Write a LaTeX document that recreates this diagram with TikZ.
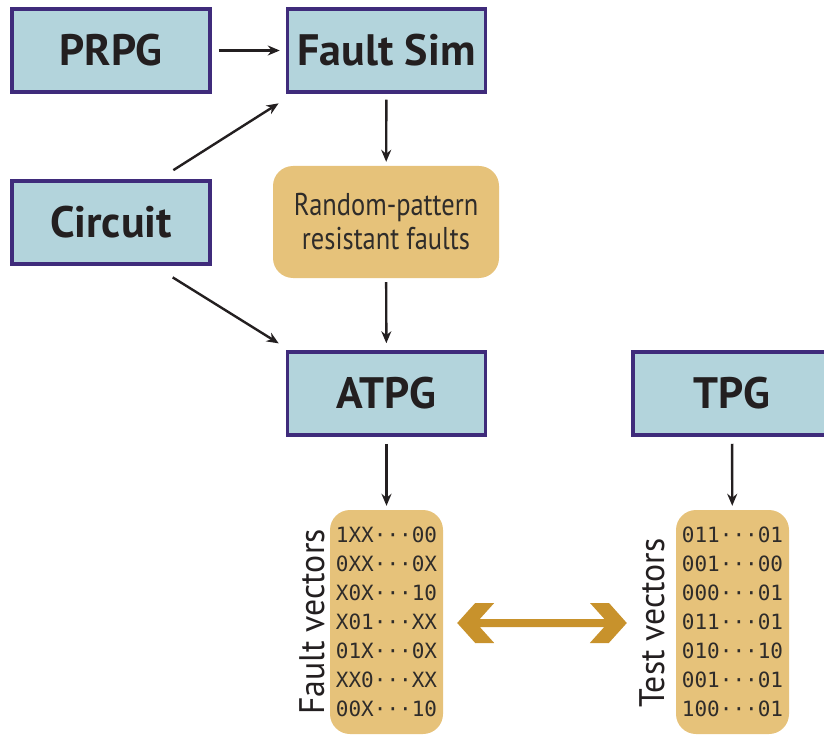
\documentclass[tikz,border=0pt]{standalone}
\usepackage{fontspec}
\setmainfont{PT Sans}
\newfontfamily\vecfont{DejaVu Sans Mono}
\usetikzlibrary{arrows.meta,calc}
\definecolor{boxblue}{HTML}{B3D4DC}
\definecolor{boxedge}{HTML}{3F2B7B}
\definecolor{gold}{HTML}{E6C27A}
\definecolor{arrowgold}{HTML}{C8922C}
\definecolor{ink}{HTML}{231F20}
\definecolor{softink}{HTML}{2F2C2A}
\begin{document}
\begin{tikzpicture}[x=1pt,y=-1pt,
  block/.style={draw=boxedge, fill=boxblue, line width=3.5pt,
    minimum width=198pt, minimum height=83pt, inner sep=0pt,
    font=\fontsize{44}{48}\selectfont\bfseries, text=ink},
  pill/.style={fill=gold, rounded corners=20pt, inner sep=0pt},
  vecs/.style={pill, minimum width=113pt, minimum height=224pt,
    align=left, text=softink, font=\vecfont\fontsize{21}{29}\selectfont},
  side/.style={rotate=90, text=ink, font=\fontsize{35.5}{38}\selectfont},
  flow/.style={-{Stealth[length=12pt,width=10pt]}, line width=2.4pt, draw=ink}
]
\clip (0,0) rectangle (824,735);

% blue process blocks
\node[block] (prpg) at (111,50.5) {PRPG};
\node[block] (fsim) at (386.5,50.5) {Fault Sim};
\node[block] (circ) at (111,222.5) {Circuit};
\node[block] (atpg) at (386.5,393.5) {ATPG};
\node[block] (tpg)  at (732,393.5) {TPG};

% gold result boxes
\node[pill, minimum width=226pt, minimum height=112pt, align=center,
      text=softink, font=\fontsize{31.5}{34}\selectfont] (rpr) at (386,222)
  {\scalebox{0.84}[1]{Random-pattern}\\\scalebox{0.84}[1]{resistant faults}};

\node[vecs] (fv) at (386.5,622)
  {1XX···00\\0XX···0X\\X0X···10\\X01···XX\\01X···0X\\XX0···XX\\00X···10};
\node[vecs] (tv) at (732.5,622)
  {011···01\\001···00\\000···01\\011···01\\010···10\\001···01\\100···01};

\node[side] (fvl) at (312,622) {\scalebox{0.95}[1]{Fault vectors}};
\node[side] (tvl) at (652,623) {\scalebox{0.95}[1]{Test vectors}};

% flow connectors
\draw[flow, shorten <=7pt, shorten >=6pt] (prpg) -- (fsim);
\draw[flow, shorten <=17pt, shorten >=18pt]
  ([xshift=48pt]circ.north) -- ([xshift=8pt]fsim.south west);
\draw[flow, shorten <=22pt, shorten >=13pt]
  ([xshift=43pt]circ.south) -- ([xshift=4pt]atpg.north west);
\draw[flow, shorten <=6pt, shorten >=4pt] (fsim) -- (rpr);
\draw[flow, shorten <=4pt, shorten >=7pt] (rpr) -- (atpg);
\draw[flow, shorten <=7pt, shorten >=4pt] (atpg) -- (fv);
\draw[flow, shorten <=7pt, shorten >=4pt] (tpg) -- (tv);

% two-headed comparison arrow
\coordinate (dl) at ($(fv.east)+(14,1)$);
\coordinate (dr) at ($(tv.west)+(-49,1)$);
\fill[arrowgold] (dl) -- ++(18,-20) -- ++(19,0) -- ++(-14.4,16)
  -- ($(dr)+(-22.4,-4)$) -- ++(-14.4,-16) -- ++(19,0) -- (dr)
  -- ++(-18,20) -- ++(-19,0) -- ++(14.4,-16)
  -- ($(dl)+(22.6,4)$) -- ++(14.4,16) -- ++(-19,0) -- cycle;
\end{tikzpicture}
\end{document}
